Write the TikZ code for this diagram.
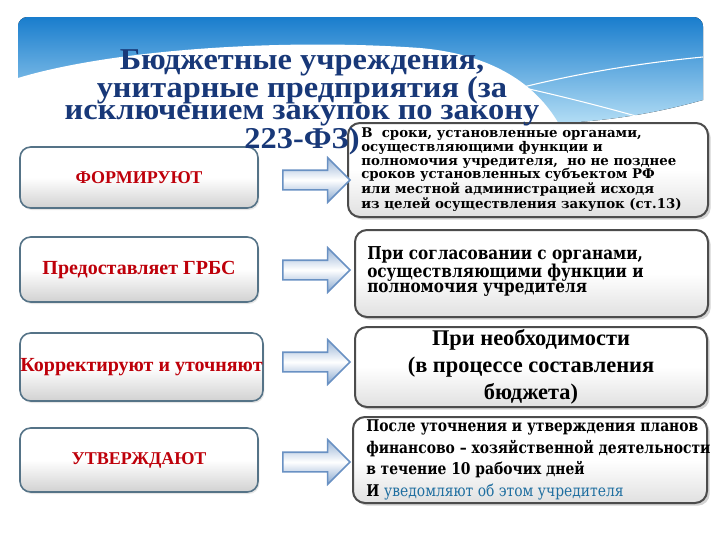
\documentclass[tikz,border=0pt]{standalone}
\usepackage{fontspec}
\setmainfont{Liberation Serif}
\newfontfamily\titlefont[FakeStretch=1.07]{Liberation Serif}
\newfontfamily\wideserif{DejaVu Serif}
\newfontfamily\narrowserif[FakeStretch=0.86]{DejaVu Serif}
\usetikzlibrary{positioning,shapes.arrows,shadows}
\definecolor{navy}{RGB}{24,56,120}
\definecolor{darkred}{RGB}{190,0,10}
\definecolor{bandtop}{RGB}{25,125,205}
\definecolor{bandbot}{RGB}{180,222,245}
\definecolor{framegray}{RGB}{85,115,135}
\definecolor{arrowblue}{RGB}{105,145,195}
\definecolor{noteblue}{RGB}{30,110,160}

\begin{document}
\begin{tikzpicture}[
	x=0.75pt, y=-0.75pt,
	leftbox/.style={ draw=framegray, line width=1.2pt, rounded corners=8pt, top color=white, bottom color=black!18, middle color=white, drop shadow={opacity=0.2, shadow xshift=1pt, shadow yshift=-1.5pt}, inner sep=0pt, text=darkred, font=\fontsize{15}{17}\selectfont\bfseries },
	capsfont/.style={ font=\fontsize{13.5}{16}\selectfont\bfseries },
	rightbox/.style={ draw=black!70, line width=1.5pt, rounded corners=9pt, top color=white, bottom color=black!12, middle color=white, drop shadow={opacity=0.35, shadow xshift=2pt, shadow yshift=-2pt}, inner sep=0pt },
	notetext/.style={ inner sep=0pt, align=left, anchor=west },
	blockarrow/.style={ single arrow, draw=arrowblue, line width=1.2pt, top color=arrowblue!70, bottom color=arrowblue!80, middle color=white, inner xsep=0pt, inner ysep=9*0.75pt, minimum height=67*0.75pt, single arrow head extend=12.5*0.75pt }
]
\useasboundingbox (0,0) rectangle (720,540);

% header band
\fill[top color=bandtop, bottom color=bandbot] (18,124) [rounded corners=7pt] -- (18,17) -- (703,17) [sharp corners] -- (703,100) .. controls (660,112) and (610,122) .. (540,124) -- cycle;
\fill[white] (18,78) .. controls (110,50) and (280,38) .. (420,48) .. controls (500,55) and (540,90) .. (560,126) -- (18,126) -- cycle;
\draw[white, line width=0.8pt] (703,57) .. controls (620,65) and (520,82) .. (420,118);
\draw[white, line width=0.8pt] (380,62) .. controls (480,75) and (580,100) .. (650,120);

% left column
\node at (139,177.5) (l1) [leftbox, capsfont, minimum width=238*0.75pt, minimum height=61*0.75pt] {ФОРМИРУЮТ};
\node at (139,269.5) (l2) [leftbox, minimum width=238*0.75pt, minimum height=65*0.75pt] {Предоставляет ГРБС};
\node at (141.5,367) (l3) [leftbox, minimum width=243*0.75pt, minimum height=68*0.75pt] {Корректируют и уточняют};
\node at (139,460) (l4) [leftbox, capsfont, minimum width=238*0.75pt, minimum height=64*0.75pt] {УТВЕРЖДАЮТ};

% right column
\node at (528,170) (r1) [rightbox, minimum width=360*0.75pt, minimum height=94*0.75pt] {};
\node at (531.5,273.5) (r2) [rightbox, minimum width=353*0.75pt, minimum height=87*0.75pt] {};
\node at (531,367) (r3) [rightbox, minimum width=352*0.75pt, minimum height=80*0.75pt, align=center, font=\fontsize{16.8}{20}\selectfont\bfseries] {При необходимости\\(в процессе составления\\бюджета)};
\node at (530,460) (r4) [rightbox, minimum width=354*0.75pt, minimum height=86*0.75pt] {};

\node (t1) [notetext, right=10.5pt of r1.west, font=\fontsize{10}{10.2}\wideserif\bfseries] {В\ \ сроки, установленные органами,\\осуществляющими функции и\\полномочия учредителя,\ \ но не позднее\\сроков установленных субъектом РФ\\или местной администрацией исходя\\из целей осуществления закупок (ст.13)};
\node (t2) [notetext, right=9.75pt of r2.west, yshift=1.5pt, font=\fontsize{13.3}{11.5}\narrowserif\bfseries] {При согласовании с органами,\\осуществляющими функции и\\полномочия учредителя};
\node (t4) [notetext, right=10.5pt of r4.west, font=\fontsize{12.1}{16.3}\narrowserif\bfseries] {После уточнения и утверждения планов\\финансово – хозяйственной деятельности\\в течение 10 рабочих дней\\И {\mdseries\color{noteblue}уведомляют об этом учредителя}};

% arrows
\node at (311.5,180) (a1) [blockarrow] {};
\node at (311.5,270) (a2) [blockarrow] {};
\node at (311.5,362) (a3) [blockarrow] {};
\node at (311.5,462) (a4) [blockarrow] {};

% title
\node at (302,49) (ttl) [anchor=north, align=center, inner sep=0pt, text=navy, font=\fontsize{22.7}{16.5}\titlefont\bfseries] {Бюджетные учреждения,\\унитарные предприятия (за\\исключением закупок по закону\\223-ФЗ)};

\end{tikzpicture}
\end{document}
